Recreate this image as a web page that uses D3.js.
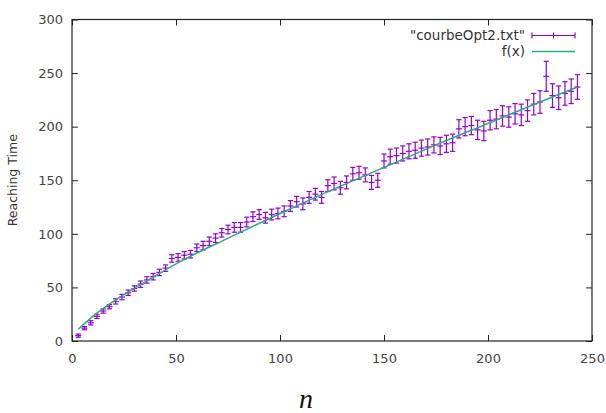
<!DOCTYPE html>
<html>
<head>
<meta charset="utf-8">
<script src="https://cdn.jsdelivr.net/npm/d3@7"></script>
<style>
  body { margin: 0; background: #fff; }
  text { font-family: "DejaVu Sans", sans-serif; }
</style>
</head>
<body>
<div id="chart"></div>
<script>
// measured points: n, mean reaching time, error
var nValues = [3, 6, 9, 12, 15, 18, 21, 24, 27, 30, 33, 36, 39, 42, 45, 48, 51, 54, 57, 60,
  63, 66, 69, 72, 75, 78, 81, 84, 87, 90, 93, 96, 99, 102, 105, 108, 111, 114, 117, 120,
  123, 126, 129, 132, 135, 138, 141, 144, 147, 150, 153, 156, 159, 162, 165, 168, 171, 174, 177, 180,
  183, 186, 189, 192, 195, 198, 201, 204, 207, 210, 213, 216, 219, 222, 225, 228, 231, 234, 237, 240, 243];
var reachTimes = [5, 12, 17, 23, 28, 32, 37, 41, 45, 49, 53, 57, 60, 64, 68, 77, 78, 80, 81, 87,
  89, 93, 96, 101, 104, 106, 106, 111, 116, 118, 115, 118, 119, 121, 126, 130, 128, 134, 137, 134,
  145, 147, 143, 148, 156, 157, 155, 148, 150, 168, 172, 173, 175, 177, 178, 180, 181, 183, 182, 184,
  185, 198, 200, 201, 197, 196, 206, 207, 210, 209, 212, 211, 215, 221, 223, 247, 229, 227, 231, 233, 237];
var errors = [1.5, 1.5, 2, 2, 2, 2, 2.5, 2.5, 2.5, 2.5, 3, 3, 3, 3, 3, 3.5, 3.5, 3.5, 3.5, 3.5,
  4, 4, 4, 4, 4, 4.5, 4.5, 4.5, 4.5, 4.5, 5, 5, 5, 5, 5, 5, 5.5, 5.5, 5.5, 5.5,
  5.5, 6, 6, 6, 6, 6, 6.5, 6.5, 6.5, 6.5, 7, 7, 7, 7, 7.5, 7.5, 7.5, 7.5, 8, 8,
  8, 8.5, 8.5, 8.5, 9, 9, 9, 9, 9.5, 9.5, 9.5, 10, 10, 10, 10.5, 14, 11, 11, 11, 11.5, 11.5];

// fitted curve f(x)
var fitX = [3, 10, 20, 35, 50, 75, 100, 125, 150, 175, 200, 225, 243];
var fitY = [11, 23, 37, 55, 72, 96, 119, 141, 162, 183, 203, 223, 237];

var xTicks = [0, 50, 100, 150, 200, 250];
var yTicks = [0, 50, 100, 150, 200, 250, 300];
var legendLabels = ['"courbeOpt2.txt"', "f(x)"];

var pointColor = "#9400d3", fitColor = "#2aaa84";

var margin = {top: 19.5, right: 14, bottom: 72, left: 72},
  width = 606 - margin.left - margin.right,
  height = 413 - margin.top - margin.bottom;

var svg = d3.select("#chart")
  .append("svg")
  .attr("width", 606)
  .attr("height", 413)
  .append("g")
  .attr("transform", "translate(" + margin.left + "," + margin.top + ")");

var x = d3.scaleLinear().domain([0, 250]).range([0, width]);
var y = d3.scaleLinear().domain([0, 300]).range([height, 0]);

// axes with inward ticks, mirrored on top and right
var tickLen = 6;
svg.append("g")
  .attr("transform", "translate(0," + height + ")")
  .call(d3.axisBottom(x).tickValues(xTicks).tickSizeInner(-tickLen).tickSizeOuter(0).tickPadding(13));
svg.append("g")
  .call(d3.axisLeft(y).tickValues(yTicks).tickSizeInner(-tickLen).tickSizeOuter(0).tickPadding(9));
svg.append("g")
  .call(d3.axisTop(x).tickValues(xTicks).tickSizeInner(-tickLen).tickSizeOuter(0).tickFormat(""));
svg.append("g")
  .attr("transform", "translate(" + width + ",0)")
  .call(d3.axisRight(y).tickValues(yTicks).tickSizeInner(-tickLen).tickSizeOuter(0).tickFormat(""));

svg.selectAll(".domain").remove();
svg.selectAll(".tick line").attr("stroke", "#222").attr("stroke-width", 1);
svg.selectAll(".tick text")
  .attr("fill", "#444")
  .style("font-size", "13px")
  .style("font-family", "DejaVu Sans, sans-serif");

svg.append("rect")
  .attr("width", width)
  .attr("height", height)
  .attr("fill", "none")
  .attr("stroke", "#222")
  .attr("stroke-width", 1.2);

// error bars
var data = nValues.map(function(n, i) {
  return {n: n, t: reachTimes[i], e: errors[i]};
});
var cap = 2.6;
var bars = svg.selectAll(".err")
  .data(data)
  .enter()
  .append("g")
  .attr("class", "err")
  .attr("stroke", pointColor)
  .attr("stroke-width", 1.2);
bars.append("line")
  .attr("x1", function(d) { return x(d.n); })
  .attr("x2", function(d) { return x(d.n); })
  .attr("y1", function(d) { return y(d.t - d.e); })
  .attr("y2", function(d) { return y(d.t + d.e); });
bars.append("line")
  .attr("x1", function(d) { return x(d.n) - cap; })
  .attr("x2", function(d) { return x(d.n) + cap; })
  .attr("y1", function(d) { return y(d.t - d.e); })
  .attr("y2", function(d) { return y(d.t - d.e); });
bars.append("line")
  .attr("x1", function(d) { return x(d.n) - cap; })
  .attr("x2", function(d) { return x(d.n) + cap; })
  .attr("y1", function(d) { return y(d.t + d.e); })
  .attr("y2", function(d) { return y(d.t + d.e); });
bars.append("line")
  .attr("x1", function(d) { return x(d.n) - 3; })
  .attr("x2", function(d) { return x(d.n) + 3; })
  .attr("y1", function(d) { return y(d.t); })
  .attr("y2", function(d) { return y(d.t); });

// fit curve
var fitLine = d3.line()
  .x(function(d, i) { return x(fitX[i]); })
  .y(function(d) { return y(d); })
  .curve(d3.curveMonotoneX);
svg.append("path")
  .attr("d", fitLine(fitY))
  .attr("fill", "none")
  .attr("stroke", fitColor)
  .attr("stroke-width", 1.5);

// legend
var legend = svg.append("g").attr("transform", "translate(" + (width - 67) + ",16)");
legend.selectAll("text")
  .data(legendLabels)
  .enter()
  .append("text")
  .attr("x", 0)
  .attr("y", function(d, i) { return i * 16; })
  .attr("dy", "0.35em")
  .attr("text-anchor", "end")
  .attr("fill", "#333")
  .style("font-size", "13.5px")
  .text(function(d) { return d; });
var ls = legend.append("g").attr("stroke", pointColor).attr("stroke-width", 1.2);
ls.append("line").attr("x1", 7).attr("x2", 50).attr("y1", 0).attr("y2", 0);
ls.append("line").attr("x1", 7).attr("x2", 7).attr("y1", -3).attr("y2", 3);
ls.append("line").attr("x1", 50).attr("x2", 50).attr("y1", -3).attr("y2", 3);
ls.append("line").attr("x1", 28.5).attr("x2", 28.5).attr("y1", -3).attr("y2", 3);
legend.append("line")
  .attr("x1", 7).attr("x2", 50).attr("y1", 16).attr("y2", 16)
  .attr("stroke", fitColor)
  .attr("stroke-width", 1.5);

// axis titles
svg.append("text")
  .attr("transform", "translate(-59," + (height / 2) + ") rotate(-90)")
  .attr("text-anchor", "middle")
  .attr("dy", "0.35em")
  .attr("fill", "#333")
  .style("font-size", "12.5px")
  .text("Reaching Time");
svg.append("text")
  .attr("x", width / 2 - 26)
  .attr("y", height + 67)
  .attr("text-anchor", "middle")
  .style("font-family", "Liberation Serif, serif")
  .style("font-style", "italic")
  .style("font-size", "28px")
  .attr("fill", "#111")
  .text("n");
</script>
</body>
</html>
